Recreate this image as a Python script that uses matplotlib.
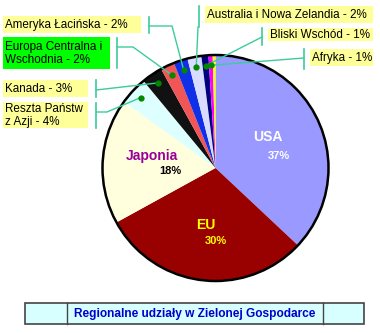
import matplotlib
matplotlib.use("Agg")
import matplotlib.pyplot as plt
import matplotlib.patches as patches
import numpy as np

W, H = 380, 333

# data: share of green economy by region (%)
regions = ["USA", "EU", "Japonia", "Reszta Państw z Azji", "Kanada",
           "Europa Centralna i Wschodnia", "Ameryka Łacińska",
           "Australia i Nowa Zelandia", "Bliski Wschód", "Afryka", ""]
shares = [37, 30, 18, 4, 3, 2, 2, 2, 1, 0.6, 0.4]
colors = ["#9999FF", "#990000", "#FFFFDD", "#DDFFFF", "#111111",
          "#F25555", "#1030E8", "#D8DCFF", "#000080", "#FF00FF", "#FFFF00"]

fig = plt.figure(figsize=(W / 100, H / 100), dpi=100)
ax = fig.add_axes([0, 0, 1, 1])
ax.axis("off")

cx, cy, R = 215.5, 168, 113
# y axis is inverted, so counterclock=True draws clockwise on screen
wedges, _ = ax.pie(shares, colors=colors, startangle=-90, counterclock=True,
                   center=(cx, cy), radius=R, wedgeprops=dict(linewidth=0))
ax.add_patch(patches.Circle((cx, cy), R, fill=False, ec="black", lw=1.8, zorder=3))
ax.set_xlim(0, W)
ax.set_ylim(H, 0)   # pixel coordinates, y downwards
ax.set_aspect("equal")

# labels inside the pie
ax.text(268, 137, "USA", color="white", fontsize=10, fontweight="bold",
        family="Liberation Sans", ha="center", va="center")
ax.text(279, 156, "37%", color="white", fontsize=8, fontweight="bold",
        family="Liberation Sans", ha="center", va="center")
ax.text(206, 225, "EU", color="#FFFF00", fontsize=10, fontweight="bold",
        family="Liberation Sans", ha="center", va="center")
ax.text(216, 241, "30%", color="#FFFF00", fontsize=8, fontweight="bold",
        family="Liberation Sans", ha="center", va="center")
ax.text(151.5, 156, "Japonia", color="#990099", fontsize=10, fontweight="bold",
        family="Liberation Sans", ha="center", va="center")
ax.text(170, 171, "18%", color="black", fontsize=8, fontweight="bold",
        family="Liberation Sans", ha="center", va="center")

# callout labels: (slice index, text, box x0, y0, x1, y1, fill, bracket x, bracket y0, y1, path)
callouts = [
    (6, "Ameryka Łacińska - 2%", 3, 16, 141, 33, "#FFFF99", 149, 17, 33, [(149, 26), (172, 26)]),
    (5, "Europa Centralna i\nWschodnia - 2%", 3, 37, 110, 69, "#00FF00", 117, 38, 68, [(117, 47), (133, 47)]),
    (4, "Kanada - 3%", 3, 80, 88, 97, "#FFFF99", 96, 80, 97, [(96, 90)]),
    (3, "Reszta Państw\nz Azji - 4%", 3, 102, 88, 128, "#FFFF99", 96, 103, 128, [(96, 112), (107, 112)]),
    (7, "Australia i Nowa Zelandia - 2%", 205, 6, 373, 23, "#FFFF99", 199, 6, 27, [(198, 27)]),
    (8, "Bliski Wschód - 1%", 268, 28, 373, 41, "#FFFF99", 262, 28, 45, [(262, 37)]),
    (9, "Afryka - 1%", 310, 49, 373, 66, "#FFFF99", 304, 49, 69, [(304, 58)]),
]

line_c = "#3CCC99"
for idx, txt, x0, y0, x1, y1, fc, bx, by0, by1, path in callouts:
    ax.add_patch(patches.Rectangle((x0, y0), x1 - x0, y1 - y0, fc=fc, ec="none", zorder=4))
    ax.text(x0 + 2, (y0 + y1) / 2 + 0.5, txt, fontsize=8.4, family="Liberation Sans",
            ha="left", va="center", linespacing=1.05, zorder=5)
    ax.plot([bx, bx], [by0, by1], color=line_c, lw=1.2, zorder=4)
    w = wedges[idx]
    mid = np.deg2rad((w.theta1 + w.theta2) / 2)
    dx, dy = cx + 0.91 * R * np.cos(mid), cy + 0.91 * R * np.sin(mid)
    pts = path + [(dx, dy)]
    ax.plot([p[0] for p in pts], [p[1] for p in pts], color=line_c, lw=1, zorder=4)
    ax.plot(dx, dy, "o", color="#008800", ms=3.5, zorder=6)

# title box at the bottom
ax.add_patch(patches.Rectangle((25, 303), 339, 21, fc="#D8FFFF", ec="#444444", lw=1.2, zorder=4))
ax.plot([67, 67], [303, 324], color="#444444", lw=1, zorder=5)
ax.plot([323, 323], [303, 324], color="#444444", lw=1, zorder=5)
ax.text(195, 314, "Regionalne udziały w Zielonej Gospodarce", color="#0000CC",
        fontsize=8.6, fontweight="bold", family="Liberation Sans",
        ha="center", va="center", zorder=6)

fig.savefig("out.png", dpi=100)
